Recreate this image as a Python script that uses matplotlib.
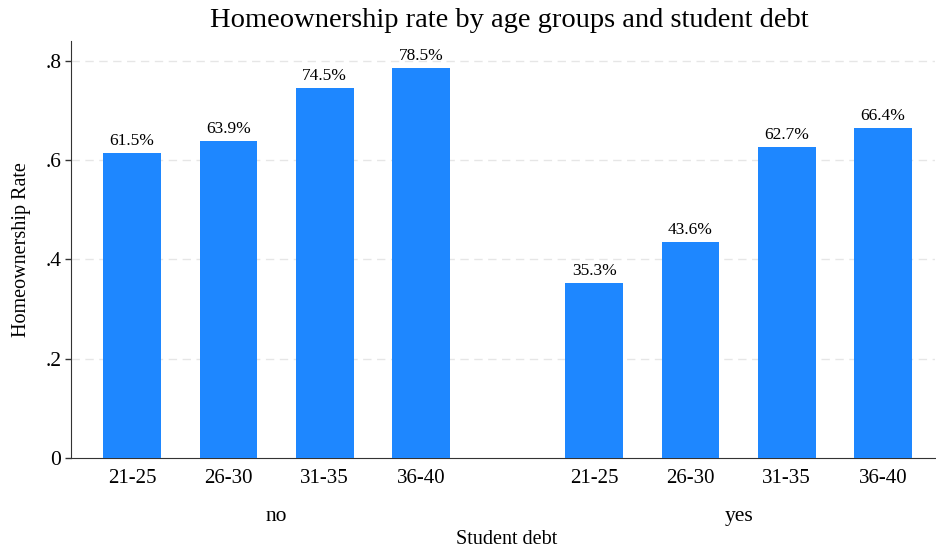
import numpy as np
import matplotlib
matplotlib.use('Agg')
from matplotlib import pyplot as plt

age_groups = ['21-25', '26-30', '31-35', '36-40']
debt_groups = ['no', 'yes']
rate_no = [0.615, 0.639, 0.745, 0.785]
rate_yes = [0.353, 0.436, 0.627, 0.664]
yticks = [0, 0.2, 0.4, 0.6, 0.8]
ytick_labels = ['0', '.2', '.4', '.6', '.8']

plt.rcParams['font.family'] = ['Liberation Serif', 'DejaVu Serif']
bar_color = '#1E87FF'

fig = plt.figure(figsize=(9.36, 5.49), dpi=100)
ax = fig.add_axes([0.0759, 0.1658, 0.923, 0.7595])

# bar positions: two groups of four, gap between groups
x_no = np.arange(4)
x_yes = np.arange(4) + 4.8
values = rate_no + rate_yes
xs = np.concatenate([x_no, x_yes])

bars = ax.bar(xs, values, width=0.6, color=bar_color, zorder=3)
for x, v in zip(xs, values):
    ax.text(x, v + 0.008, '%.1f%%' % (v * 100), ha='center', va='bottom', fontsize=12.5)

ax.set_xlim(-0.635, 8.34)
ax.set_ylim(0, 0.84)
ax.set_yticks(yticks)
ax.set_yticklabels(ytick_labels, fontsize=15.5)
ax.set_xticks(xs)
ax.set_xticklabels(age_groups + age_groups, fontsize=15)
ax.tick_params(axis='x', length=0, pad=8)
ax.tick_params(axis='y', length=4, width=1, color='#333333', pad=3)

for y in yticks[1:]:
    ax.axhline(y, color='#e6e6e6', linestyle=(0, (6, 4)), linewidth=1, zorder=1)

ax.spines['top'].set_visible(False)
ax.spines['right'].set_visible(False)
ax.spines['left'].set_color('#333333')
ax.spines['bottom'].set_color('#333333')

# group labels
for centre, name in zip([x_no.mean(), x_yes.mean()], debt_groups):
    ax.text(centre, -0.14, name, ha='center', va='center', fontsize=15.5,
            transform=ax.get_xaxis_transform())
fig.text(0.541, 0.017, 'Student debt', ha='center', va='center', fontsize=14.5)

ax.set_ylabel('Homeownership Rate', fontsize=14.5)
ax.yaxis.set_label_coords(-0.046, 0.5)
fig.text(0.544, 0.963, 'Homeownership rate by age groups and student debt',
         ha='center', va='center', fontsize=20.5)

plt.savefig('out.png', dpi=100)
plt.close()
